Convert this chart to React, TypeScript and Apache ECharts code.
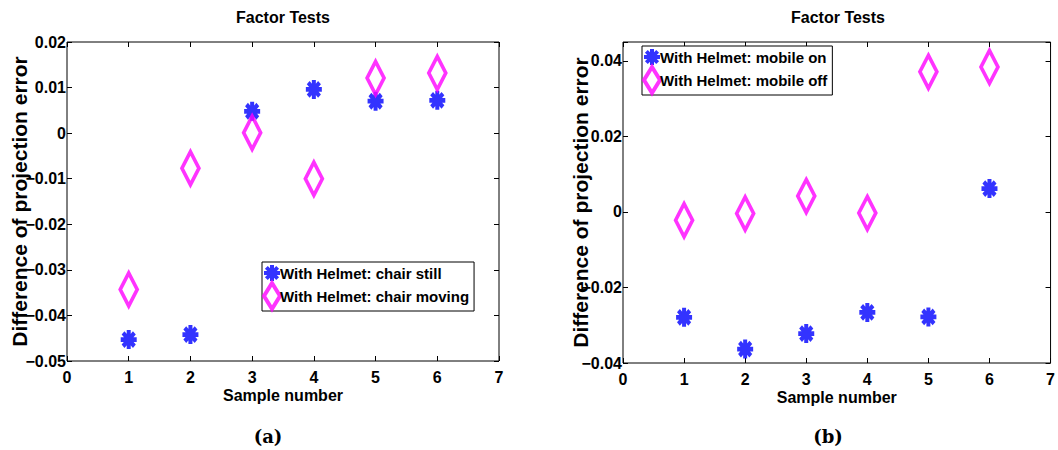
import React, { useEffect, useRef } from 'react';
import * as echarts from 'echarts';

// ---- data ----
const samples = [1, 2, 3, 4, 5, 6];
const chairStill = [-0.0453, -0.0442, 0.0048, 0.0096, 0.007, 0.0072];
const chairMoving = [-0.0343, -0.0077, 0.0001, -0.01, 0.0121, 0.0132];
const mobileOn = [-0.0279, -0.0363, -0.0322, -0.0266, -0.0278, 0.0062];
const mobileOff = [-0.0022, -0.0004, 0.0042, -0.0003, 0.0371, 0.0384];
const seriesNames = [
  'With Helmet: chair still',
  'With Helmet: chair moving',
  'With Helmet: mobile on',
  'With Helmet: mobile off',
];
const chartTitle = 'Factor Tests';
const xName = 'Sample number';
const yName = 'Difference of projection error';
const panelLabels = ['(a)', '(b)'];

const FONT = "'Liberation Sans', Arial, sans-serif";
const BLUE = '#0000ff';
const MAGENTA = '#ff00ff';
const ASTERISK =
  'path://M-10,-2.5L10,-2.5L10,2.5L-10,2.5Z M-2.5,-10L2.5,-10L2.5,10L-2.5,10Z M8.84,5.3L5.3,8.84L-8.84,-5.3L-5.3,-8.84Z M5.3,-8.84L8.84,-5.3L-5.3,8.84L-8.84,5.3Z';

const fmt = (v: number) => {
  if (Math.abs(v) < 1e-9) return '0';
  return v.toFixed(2).replace('-', '\u2212');
};
const fmtStep = (step: number) => (v: number) => {
  const r = v / step;
  if (Math.abs(r - Math.round(r)) > 1e-6) return '';
  return fmt(v);
};

const pairs = (ys: number[]) => samples.map((x, i) => [x, ys[i]]);

export default function App() {
  const ref = useRef<HTMLDivElement>(null);
  useEffect(() => {
    if (!ref.current) return;
    const chart = echarts.init(ref.current, undefined, { renderer: 'svg' });
    const labelStyle = { color: '#000', fontFamily: FONT, fontWeight: 'bold' as const, fontSize: 16 };
    const grids = [
      { left: 67, top: 42, width: 432, height: 319 },
      { left: 623, top: 42, width: 430, height: 321 },
    ];
    const tick = { inside: true, length: 5, lineStyle: { color: '#000' } };
    const xAxes: any[] = [];
    const yAxes: any[] = [];
    grids.forEach((g, i) => {
      xAxes.push({
        gridIndex: i, type: 'value', min: 0, max: 7, interval: 1, position: 'bottom',
        axisLine: { show: false, onZero: false }, splitLine: { show: false },
        axisTick: tick,
        axisLabel: { ...labelStyle, margin: 8 },
        name: xName, nameLocation: 'middle', nameGap: 26, nameMoveOverlap: false,
        nameTextStyle: { ...labelStyle },
      });
      xAxes.push({
        gridIndex: i, type: 'value', min: 0, max: 7, interval: 1, position: 'top',
        axisLine: { show: false, onZero: false }, splitLine: { show: false },
        axisTick: tick,
        axisLabel: { show: false },
      });
    });
    const yCfg = [
      { min: -0.05, max: 0.02, interval: 0.01, formatter: fmt, gap: 37 },
      { min: -0.04, max: 0.045, interval: 0.02, formatter: fmtStep(0.02), gap: 32 },
    ];
    yCfg.forEach((c, i) => {
      yAxes.push({
        gridIndex: i, type: 'value', min: c.min, max: c.max, interval: c.interval, position: 'left',
        axisLine: { show: false, onZero: false }, splitLine: { show: false },
        axisTick: tick,
        axisLabel: { ...labelStyle, margin: 1, formatter: c.formatter },
        name: yName, nameLocation: 'middle', nameGap: c.gap, nameRotate: 90, nameMoveOverlap: false,
        nameTextStyle: { color: '#000', fontFamily: FONT, fontWeight: 'bold', fontSize: 21 },
      });
      yAxes.push({
        gridIndex: i, type: 'value', min: c.min, max: c.max, interval: c.interval, position: 'right',
        axisLine: { show: false, onZero: false }, splitLine: { show: false },
        axisTick: tick,
        axisLabel: { show: false },
      });
    });

    const starStyle = { color: BLUE, borderWidth: 0 };
    const diamondStyle = { color: 'rgba(0,0,0,0)', borderColor: MAGENTA, borderWidth: 4 };
    const mkStar = (name: string, ys: number[], i: number) => ({
      type: 'scatter', name, xAxisIndex: i * 2, yAxisIndex: i * 2,
      symbol: ASTERISK, symbolSize: [16, 19], itemStyle: starStyle, data: pairs(ys),
    });
    const mkDiamond = (name: string, ys: number[], i: number) => ({
      type: 'scatter', name, xAxisIndex: i * 2, yAxisIndex: i * 2,
      symbol: 'diamond', symbolSize: [17, 33], itemStyle: diamondStyle, data: pairs(ys),
    });

    const mkLegend = (left: number, top: number, names: string[]) => ({
      left, top, orient: 'vertical', itemGap: 0, itemWidth: 16, itemHeight: 26,
      padding: [3, 5, 0, 0], backgroundColor: '#fff', borderColor: '#000', borderWidth: 1,
      textStyle: { ...labelStyle, fontSize: 15, padding: [0, 0, 0, -5] },
      selectedMode: false,
      data: [
        { name: names[0], icon: ASTERISK, itemStyle: starStyle },
        { name: names[1], icon: 'diamond', itemStyle: diamondStyle },
      ],
    });

    const centers = [283, 838];
    const graphic: any[] = [];
    centers.forEach((cx, i) => {
      graphic.push({
        type: 'text', x: cx, y: 9,
        style: { text: chartTitle, fill: '#000', font: `bold 16px ${FONT}`, textAlign: 'center' },
      });
      graphic.push({
        type: 'text', x: [268, 828][i], y: 427,
        style: { text: panelLabels[i], fill: '#000', font: "bold 18px 'DejaVu Serif', serif", textAlign: 'center' },
      });
    });

    chart.setOption({
      animation: false,
      backgroundColor: '#fff',
      grid: grids.map((g) => ({ ...g, show: true, borderColor: '#000', borderWidth: 1, backgroundColor: '#fff' })),
      xAxis: xAxes,
      yAxis: yAxes,
      legend: [
        mkLegend(262, 262, [seriesNames[0], seriesNames[1]]),
        mkLegend(642, 46, [seriesNames[2], seriesNames[3]]),
      ],
      series: [
        mkStar(seriesNames[0], chairStill, 0),
        mkDiamond(seriesNames[1], chairMoving, 0),
        mkStar(seriesNames[2], mobileOn, 1),
        mkDiamond(seriesNames[3], mobileOff, 1),
      ],
      graphic,
    });
    return () => chart.dispose();
  }, []);
  return (
    <div
      ref={ref}
      style={{ position: 'absolute', left: 0, top: 0, width: 1058, height: 450 }}
    />
  );
}
